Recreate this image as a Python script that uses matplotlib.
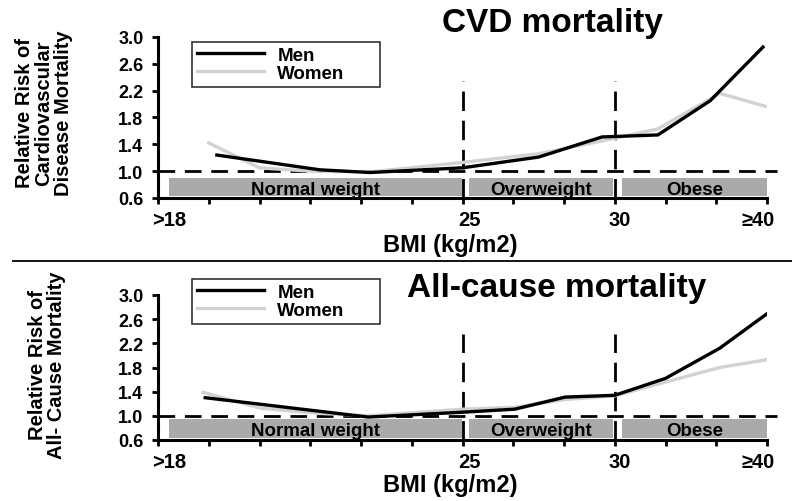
import matplotlib.pyplot as plt
from matplotlib.lines import Line2D
from matplotlib.transforms import ScaledTranslation

plt.rcParams['font.family'] = ['Liberation Sans', 'DejaVu Sans']
plt.rcParams['font.weight'] = 'bold'

# x positions are in tick units: 0 = >18, 6 = 25, 9 = 30, 12 = >=40
tick_pos = list(range(13))
tick_labels = ['>18', '', '', '', '', '', '25', '', '', '30', '', '', '\u226540']
y_ticks = [0.6, 1.0, 1.4, 1.8, 2.2, 2.6, 3.0]

cvd_men_x = [1.16, 3.19, 4.18, 6.0, 7.5, 8.75, 9.85, 10.88, 11.92]
cvd_men_y = [1.24, 1.02, 0.98, 1.05, 1.21, 1.51, 1.54, 2.05, 2.85]
cvd_women_x = [1.0, 2.0, 3.0, 4.2, 6.0, 7.5, 8.75, 9.85, 11.07, 12.0]
cvd_women_y = [1.42, 1.05, 1.0, 0.99, 1.13, 1.26, 1.45, 1.63, 2.16, 1.96]

all_men_x = [0.93, 4.14, 6.0, 7.03, 8.02, 9.0, 10.0, 11.07, 12.0]
all_men_y = [1.30, 0.98, 1.06, 1.11, 1.31, 1.34, 1.62, 2.12, 2.69]
all_women_x = [0.89, 2.0, 3.0, 4.14, 6.0, 7.03, 8.02, 9.0, 10.0, 11.07, 12.0]
all_women_y = [1.39, 1.13, 1.05, 1.0, 1.11, 1.14, 1.27, 1.33, 1.56, 1.80, 1.93]

categories = ['Normal weight', 'Overweight', 'Obese']
cat_start = [0.22, 6.13, 9.14]
cat_end = [5.99, 8.97, 12.0]

W, H = 792, 502
fig = plt.figure(figsize=(W / 100, H / 100), dpi=100)

# small horizontal nudges of the x tick labels (pixels)
label_shift = {0: 11, 6: 7, 9: 5, 12: -9}


def draw_panel(rect, men_x, men_y, women_x, women_y, title, title_xy, bar_top, text_y, leg_box):
    ax = fig.add_axes(rect)
    ax.set_xlim(0, 12)
    ax.set_ylim(0.6, 3.0)
    # category bars
    for name, s, e in zip(categories, cat_start, cat_end):
        ax.fill_between([s, e], 0.63, bar_top, color='#aaaaaa', lw=0, zorder=1)
        ax.text((s + e) / 2, text_y, name, ha='center', va='baseline',
                fontsize=13.5, fontweight='bold', zorder=2)
    # reference lines
    ax.plot([0, 12.2], [1.0, 1.0], color='black', lw=2, dashes=(6, 3.5), clip_on=False, zorder=3)
    for xv in (6, 9):
        ax.plot([xv, xv], [0.6, 2.35], color='black', lw=2, dashes=(7, 3.5), zorder=3)
    ax.plot(women_x, women_y, color='#d2d2d2', lw=2.4, label='Women', zorder=4)
    ax.plot(men_x, men_y, color='black', lw=2.4, label='Men', zorder=5)

    for side in ('top', 'right'):
        ax.spines[side].set_visible(False)
    for side in ('left', 'bottom'):
        ax.spines[side].set_linewidth(2.2)
    ax.set_xticks(tick_pos)
    ax.set_xticklabels(tick_labels)
    ax.set_yticks(y_ticks)
    ax.set_yticklabels([f'{v:.1f}' for v in y_ticks])
    ax.tick_params(axis='both', width=2, length=4.5)
    ax.tick_params(axis='y', pad=6, labelsize=13)
    ax.tick_params(axis='x', pad=4, labelsize=14.5)
    for lab in ax.get_xticklabels() + ax.get_yticklabels():
        lab.set_fontweight('bold')
    for i, lab in enumerate(ax.get_xticklabels()):
        if i in label_shift:
            lab.set_transform(lab.get_transform() +
                              ScaledTranslation(label_shift[i] / 100, 0, fig.dpi_scale_trans))

    handles, labels = ax.get_legend_handles_labels()
    leg = ax.legend(handles[::-1], labels[::-1], loc='upper left', bbox_to_anchor=leg_box,
                    mode='expand', frameon=True, fancybox=False, edgecolor='black',
                    borderaxespad=0, handlelength=3.6, handletextpad=0.7, borderpad=0.25,
                    labelspacing=0.05, prop={'weight': 'bold', 'size': 13.5})
    leg.get_frame().set_linewidth(1.2)
    fig.text(title_xy[0] / W, 1 - title_xy[1] / H, title, ha='center', va='baseline',
             fontsize=24, fontweight='bold')
    return ax


ax1 = draw_panel([158 / W, 1 - 199 / H, 609 / W, 161 / H],
                 cvd_men_x, cvd_men_y, cvd_women_x, cvd_women_y,
                 'CVD mortality', (553, 32), 0.90, 0.66, (0.056, 0.696, 0.309, 0.273))
ax2 = draw_panel([158 / W, 1 - 441 / H, 609 / W, 145 / H],
                 all_men_x, all_men_y, all_women_x, all_women_y,
                 'All-cause mortality', (557, 297), 0.95, 0.68, (0.056, 0.814, 0.309, 0.296))

fig.text(450 / W, 1 - 252 / H, 'BMI (kg/m2)', ha='center', va='baseline', fontsize=17, fontweight='bold')
fig.text(450 / W, 1 - 492 / H, 'BMI (kg/m2)', ha='center', va='baseline', fontsize=17, fontweight='bold')

fig.text(44 / W, 1 - 113 / H, 'Relative Risk of\nCardiovascular\nDisease Mortality', rotation=90,
         ha='center', va='center', fontsize=14.5, fontweight='bold', linespacing=1.02)
fig.text(47 / W, 1 - 365 / H, 'Relative Risk of\nAll- Cause Mortality', rotation=90,
         ha='center', va='center', fontsize=14.5, fontweight='bold', linespacing=1.02)

fig.add_artist(Line2D([13 / W, 1], [1 - 262 / H, 1 - 262 / H], color='black', lw=1.3))

fig.savefig('out.png', dpi=100)
